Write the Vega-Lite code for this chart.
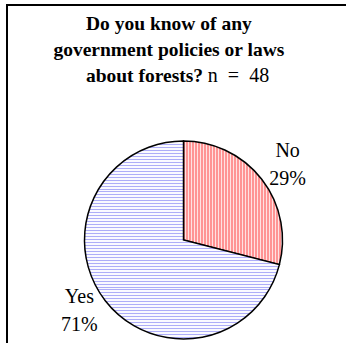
{
  "$schema": "https://vega.github.io/schema/vega-lite/v6.json",
  "width": 353,
  "height": 470,
  "autosize": "none",
  "padding": {"left": 7, "top": 5, "right": 0, "bottom": 0},
  "background": "white",
  "view": {"stroke": "black", "strokeWidth": 2},
  "title": {
    "text": ["Do you know of any\u00a0\u00a0\u00a0\u00a0\u00a0\u00a0\u200b", "government policies or laws\u00a0\u00a0\u00a0\u00a0\u00a0\u00a0\u200b", "about forests?\u00a0\u00a0\u00a0\u00a0\u00a0\u00a0\u00a0\u00a0\u00a0\u00a0\u00a0\u00a0\u00a0\u00a0\u00a0\u00a0\u200b"],
    "subtitle": "\u200b\u00a0\u00a0\u00a0\u00a0\u00a0\u00a0\u00a0\u00a0\u00a0\u00a0\u00a0\u00a0\u00a0\u00a0\u00a0\u00a0\u00a0\u00a0\u00a0\u00a0\u00a0\u00a0n\u00a0\u00a0=\u00a0\u00a048",
    "font": "Liberation Serif",
    "fontSize": 19.5,
    "fontWeight": "bold",
    "lineHeight": 26,
    "color": "black",
    "subtitleFont": "Liberation Serif",
    "subtitleFontSize": 20,
    "subtitleFontWeight": "normal",
    "subtitleColor": "black",
    "subtitlePadding": -20,
    "anchor": "middle",
    "frame": "group",
    "offset": -82
  },
  "data": {"values": [
    {"answer": "No", "share": 0.29},
    {"answer": "Yes", "share": 0.71}
  ]},
  "encoding": {
    "theta": {"field": "share", "type": "quantitative", "stack": true},
    "order": {"field": "answer", "type": "nominal"}
  },
  "layer": [
    {
      "mark": {"type": "arc", "outerRadius": 99, "stroke": "black", "strokeWidth": 1.5},
      "encoding": {
        "fill": {
          "condition": {"test": "datum.answer === 'No'", "value": {"gradient": "linear", "x1": 0, "y1": 0, "x2": 1, "y2": 0, "stops": [
            {"offset":0,"color":"#ff9494"},{"offset":0.02,"color":"#ff9494"},{"offset":0.02,"color":"#ffe2e2"},{"offset":0.03,"color":"#ffe2e2"},
            {"offset":0.03,"color":"#ff9494"},{"offset":0.05,"color":"#ff9494"},{"offset":0.05,"color":"#ffe2e2"},{"offset":0.06,"color":"#ffe2e2"},
            {"offset":0.06,"color":"#ff9494"},{"offset":0.08,"color":"#ff9494"},{"offset":0.08,"color":"#ffe2e2"},{"offset":0.09,"color":"#ffe2e2"},
            {"offset":0.09,"color":"#ff9494"},{"offset":0.11,"color":"#ff9494"},{"offset":0.11,"color":"#ffe2e2"},{"offset":0.12,"color":"#ffe2e2"},
            {"offset":0.12,"color":"#ff9494"},{"offset":0.14,"color":"#ff9494"},{"offset":0.14,"color":"#ffe2e2"},{"offset":0.15,"color":"#ffe2e2"},
            {"offset":0.15,"color":"#ff9494"},{"offset":0.17,"color":"#ff9494"},{"offset":0.17,"color":"#ffe2e2"},{"offset":0.18,"color":"#ffe2e2"},
            {"offset":0.18,"color":"#ff9494"},{"offset":0.20,"color":"#ff9494"},{"offset":0.20,"color":"#ffe2e2"},{"offset":0.21,"color":"#ffe2e2"},
            {"offset":0.21,"color":"#ff9494"},{"offset":0.23,"color":"#ff9494"},{"offset":0.23,"color":"#ffe2e2"},{"offset":0.24,"color":"#ffe2e2"},
            {"offset":0.24,"color":"#ff9494"},{"offset":0.26,"color":"#ff9494"},{"offset":0.26,"color":"#ffe2e2"},{"offset":0.27,"color":"#ffe2e2"},
            {"offset":0.27,"color":"#ff9494"},{"offset":0.29,"color":"#ff9494"},{"offset":0.29,"color":"#ffe2e2"},{"offset":0.30,"color":"#ffe2e2"},
            {"offset":0.30,"color":"#ff9494"},{"offset":0.32,"color":"#ff9494"},{"offset":0.32,"color":"#ffe2e2"},{"offset":0.33,"color":"#ffe2e2"},
            {"offset":0.33,"color":"#ff9494"},{"offset":0.35,"color":"#ff9494"},{"offset":0.35,"color":"#ffe2e2"},{"offset":0.36,"color":"#ffe2e2"},
            {"offset":0.36,"color":"#ff9494"},{"offset":0.38,"color":"#ff9494"},{"offset":0.38,"color":"#ffe2e2"},{"offset":0.39,"color":"#ffe2e2"},
            {"offset":0.39,"color":"#ff9494"},{"offset":0.41,"color":"#ff9494"},{"offset":0.41,"color":"#ffe2e2"},{"offset":0.42,"color":"#ffe2e2"},
            {"offset":0.42,"color":"#ff9494"},{"offset":0.44,"color":"#ff9494"},{"offset":0.44,"color":"#ffe2e2"},{"offset":0.45,"color":"#ffe2e2"},
            {"offset":0.45,"color":"#ff9494"},{"offset":0.47,"color":"#ff9494"},{"offset":0.47,"color":"#ffe2e2"},{"offset":0.48,"color":"#ffe2e2"},
            {"offset":0.48,"color":"#ff9494"},{"offset":0.50,"color":"#ff9494"},{"offset":0.50,"color":"#ffe2e2"},{"offset":0.51,"color":"#ffe2e2"},
            {"offset":0.51,"color":"#ff9494"},{"offset":0.53,"color":"#ff9494"},{"offset":0.53,"color":"#ffe2e2"},{"offset":0.54,"color":"#ffe2e2"},
            {"offset":0.54,"color":"#ff9494"},{"offset":0.56,"color":"#ff9494"},{"offset":0.56,"color":"#ffe2e2"},{"offset":0.57,"color":"#ffe2e2"},
            {"offset":0.57,"color":"#ff9494"},{"offset":0.59,"color":"#ff9494"},{"offset":0.59,"color":"#ffe2e2"},{"offset":0.60,"color":"#ffe2e2"},
            {"offset":0.60,"color":"#ff9494"},{"offset":0.62,"color":"#ff9494"},{"offset":0.62,"color":"#ffe2e2"},{"offset":0.63,"color":"#ffe2e2"},
            {"offset":0.63,"color":"#ff9494"},{"offset":0.65,"color":"#ff9494"},{"offset":0.65,"color":"#ffe2e2"},{"offset":0.66,"color":"#ffe2e2"},
            {"offset":0.66,"color":"#ff9494"},{"offset":0.68,"color":"#ff9494"},{"offset":0.68,"color":"#ffe2e2"},{"offset":0.69,"color":"#ffe2e2"},
            {"offset":0.69,"color":"#ff9494"},{"offset":0.71,"color":"#ff9494"},{"offset":0.71,"color":"#ffe2e2"},{"offset":0.72,"color":"#ffe2e2"},
            {"offset":0.72,"color":"#ff9494"},{"offset":0.74,"color":"#ff9494"},{"offset":0.74,"color":"#ffe2e2"},{"offset":0.75,"color":"#ffe2e2"},
            {"offset":0.75,"color":"#ff9494"},{"offset":0.77,"color":"#ff9494"},{"offset":0.77,"color":"#ffe2e2"},{"offset":0.78,"color":"#ffe2e2"},
            {"offset":0.78,"color":"#ff9494"},{"offset":0.80,"color":"#ff9494"},{"offset":0.80,"color":"#ffe2e2"},{"offset":0.81,"color":"#ffe2e2"},
            {"offset":0.81,"color":"#ff9494"},{"offset":0.83,"color":"#ff9494"},{"offset":0.83,"color":"#ffe2e2"},{"offset":0.84,"color":"#ffe2e2"},
            {"offset":0.84,"color":"#ff9494"},{"offset":0.86,"color":"#ff9494"},{"offset":0.86,"color":"#ffe2e2"},{"offset":0.87,"color":"#ffe2e2"},
            {"offset":0.87,"color":"#ff9494"},{"offset":0.89,"color":"#ff9494"},{"offset":0.89,"color":"#ffe2e2"},{"offset":0.90,"color":"#ffe2e2"},
            {"offset":0.90,"color":"#ff9494"},{"offset":0.92,"color":"#ff9494"},{"offset":0.92,"color":"#ffe2e2"},{"offset":0.93,"color":"#ffe2e2"},
            {"offset":0.93,"color":"#ff9494"},{"offset":0.95,"color":"#ff9494"},{"offset":0.95,"color":"#ffe2e2"},{"offset":0.96,"color":"#ffe2e2"},
            {"offset":0.96,"color":"#ff9494"},{"offset":0.98,"color":"#ff9494"},{"offset":0.98,"color":"#ffe2e2"},{"offset":0.99,"color":"#ffe2e2"},
            {"offset":0.99,"color":"#ff9494"},{"offset":1,"color":"#ff9494"}
          ]}},
          "value": {"gradient": "linear", "x1": 0, "y1": 0, "x2": 0, "y2": 1, "stops": [
            {"offset":0,"color":"#aeaef8"},{"offset":0.005,"color":"#aeaef8"},{"offset":0.005,"color":"#fafaff"},{"offset":0.015,"color":"#fafaff"},
            {"offset":0.015,"color":"#aeaef8"},{"offset":0.02,"color":"#aeaef8"},{"offset":0.02,"color":"#fafaff"},{"offset":0.03,"color":"#fafaff"},
            {"offset":0.03,"color":"#aeaef8"},{"offset":0.035,"color":"#aeaef8"},{"offset":0.035,"color":"#fafaff"},{"offset":0.045,"color":"#fafaff"},
            {"offset":0.045,"color":"#aeaef8"},{"offset":0.05,"color":"#aeaef8"},{"offset":0.05,"color":"#fafaff"},{"offset":0.06,"color":"#fafaff"},
            {"offset":0.06,"color":"#aeaef8"},{"offset":0.065,"color":"#aeaef8"},{"offset":0.065,"color":"#fafaff"},{"offset":0.075,"color":"#fafaff"},
            {"offset":0.075,"color":"#aeaef8"},{"offset":0.08,"color":"#aeaef8"},{"offset":0.08,"color":"#fafaff"},{"offset":0.09,"color":"#fafaff"},
            {"offset":0.09,"color":"#aeaef8"},{"offset":0.095,"color":"#aeaef8"},{"offset":0.095,"color":"#fafaff"},{"offset":0.105,"color":"#fafaff"},
            {"offset":0.105,"color":"#aeaef8"},{"offset":0.11,"color":"#aeaef8"},{"offset":0.11,"color":"#fafaff"},{"offset":0.12,"color":"#fafaff"},
            {"offset":0.12,"color":"#aeaef8"},{"offset":0.125,"color":"#aeaef8"},{"offset":0.125,"color":"#fafaff"},{"offset":0.135,"color":"#fafaff"},
            {"offset":0.135,"color":"#aeaef8"},{"offset":0.14,"color":"#aeaef8"},{"offset":0.14,"color":"#fafaff"},{"offset":0.15,"color":"#fafaff"},
            {"offset":0.15,"color":"#aeaef8"},{"offset":0.155,"color":"#aeaef8"},{"offset":0.155,"color":"#fafaff"},{"offset":0.165,"color":"#fafaff"},
            {"offset":0.165,"color":"#aeaef8"},{"offset":0.17,"color":"#aeaef8"},{"offset":0.17,"color":"#fafaff"},{"offset":0.18,"color":"#fafaff"},
            {"offset":0.18,"color":"#aeaef8"},{"offset":0.185,"color":"#aeaef8"},{"offset":0.185,"color":"#fafaff"},{"offset":0.195,"color":"#fafaff"},
            {"offset":0.195,"color":"#aeaef8"},{"offset":0.2,"color":"#aeaef8"},{"offset":0.2,"color":"#fafaff"},{"offset":0.21,"color":"#fafaff"},
            {"offset":0.21,"color":"#aeaef8"},{"offset":0.215,"color":"#aeaef8"},{"offset":0.215,"color":"#fafaff"},{"offset":0.225,"color":"#fafaff"},
            {"offset":0.225,"color":"#aeaef8"},{"offset":0.23,"color":"#aeaef8"},{"offset":0.23,"color":"#fafaff"},{"offset":0.24,"color":"#fafaff"},
            {"offset":0.24,"color":"#aeaef8"},{"offset":0.245,"color":"#aeaef8"},{"offset":0.245,"color":"#fafaff"},{"offset":0.255,"color":"#fafaff"},
            {"offset":0.255,"color":"#aeaef8"},{"offset":0.26,"color":"#aeaef8"},{"offset":0.26,"color":"#fafaff"},{"offset":0.27,"color":"#fafaff"},
            {"offset":0.27,"color":"#aeaef8"},{"offset":0.275,"color":"#aeaef8"},{"offset":0.275,"color":"#fafaff"},{"offset":0.285,"color":"#fafaff"},
            {"offset":0.285,"color":"#aeaef8"},{"offset":0.29,"color":"#aeaef8"},{"offset":0.29,"color":"#fafaff"},{"offset":0.3,"color":"#fafaff"},
            {"offset":0.3,"color":"#aeaef8"},{"offset":0.305,"color":"#aeaef8"},{"offset":0.305,"color":"#fafaff"},{"offset":0.315,"color":"#fafaff"},
            {"offset":0.315,"color":"#aeaef8"},{"offset":0.32,"color":"#aeaef8"},{"offset":0.32,"color":"#fafaff"},{"offset":0.33,"color":"#fafaff"},
            {"offset":0.33,"color":"#aeaef8"},{"offset":0.335,"color":"#aeaef8"},{"offset":0.335,"color":"#fafaff"},{"offset":0.345,"color":"#fafaff"},
            {"offset":0.345,"color":"#aeaef8"},{"offset":0.35,"color":"#aeaef8"},{"offset":0.35,"color":"#fafaff"},{"offset":0.36,"color":"#fafaff"},
            {"offset":0.36,"color":"#aeaef8"},{"offset":0.365,"color":"#aeaef8"},{"offset":0.365,"color":"#fafaff"},{"offset":0.375,"color":"#fafaff"},
            {"offset":0.375,"color":"#aeaef8"},{"offset":0.38,"color":"#aeaef8"},{"offset":0.38,"color":"#fafaff"},{"offset":0.39,"color":"#fafaff"},
            {"offset":0.39,"color":"#aeaef8"},{"offset":0.395,"color":"#aeaef8"},{"offset":0.395,"color":"#fafaff"},{"offset":0.405,"color":"#fafaff"},
            {"offset":0.405,"color":"#aeaef8"},{"offset":0.41,"color":"#aeaef8"},{"offset":0.41,"color":"#fafaff"},{"offset":0.42,"color":"#fafaff"},
            {"offset":0.42,"color":"#aeaef8"},{"offset":0.425,"color":"#aeaef8"},{"offset":0.425,"color":"#fafaff"},{"offset":0.435,"color":"#fafaff"},
            {"offset":0.435,"color":"#aeaef8"},{"offset":0.44,"color":"#aeaef8"},{"offset":0.44,"color":"#fafaff"},{"offset":0.45,"color":"#fafaff"},
            {"offset":0.45,"color":"#aeaef8"},{"offset":0.455,"color":"#aeaef8"},{"offset":0.455,"color":"#fafaff"},{"offset":0.465,"color":"#fafaff"},
            {"offset":0.465,"color":"#aeaef8"},{"offset":0.47,"color":"#aeaef8"},{"offset":0.47,"color":"#fafaff"},{"offset":0.48,"color":"#fafaff"},
            {"offset":0.48,"color":"#aeaef8"},{"offset":0.485,"color":"#aeaef8"},{"offset":0.485,"color":"#fafaff"},{"offset":0.495,"color":"#fafaff"},
            {"offset":0.495,"color":"#aeaef8"},{"offset":0.5,"color":"#aeaef8"},{"offset":0.5,"color":"#fafaff"},{"offset":0.51,"color":"#fafaff"},
            {"offset":0.51,"color":"#aeaef8"},{"offset":0.515,"color":"#aeaef8"},{"offset":0.515,"color":"#fafaff"},{"offset":0.525,"color":"#fafaff"},
            {"offset":0.525,"color":"#aeaef8"},{"offset":0.53,"color":"#aeaef8"},{"offset":0.53,"color":"#fafaff"},{"offset":0.54,"color":"#fafaff"},
            {"offset":0.54,"color":"#aeaef8"},{"offset":0.545,"color":"#aeaef8"},{"offset":0.545,"color":"#fafaff"},{"offset":0.555,"color":"#fafaff"},
            {"offset":0.555,"color":"#aeaef8"},{"offset":0.56,"color":"#aeaef8"},{"offset":0.56,"color":"#fafaff"},{"offset":0.57,"color":"#fafaff"},
            {"offset":0.57,"color":"#aeaef8"},{"offset":0.575,"color":"#aeaef8"},{"offset":0.575,"color":"#fafaff"},{"offset":0.585,"color":"#fafaff"},
            {"offset":0.585,"color":"#aeaef8"},{"offset":0.59,"color":"#aeaef8"},{"offset":0.59,"color":"#fafaff"},{"offset":0.6,"color":"#fafaff"},
            {"offset":0.6,"color":"#aeaef8"},{"offset":0.605,"color":"#aeaef8"},{"offset":0.605,"color":"#fafaff"},{"offset":0.615,"color":"#fafaff"},
            {"offset":0.615,"color":"#aeaef8"},{"offset":0.62,"color":"#aeaef8"},{"offset":0.62,"color":"#fafaff"},{"offset":0.63,"color":"#fafaff"},
            {"offset":0.63,"color":"#aeaef8"},{"offset":0.635,"color":"#aeaef8"},{"offset":0.635,"color":"#fafaff"},{"offset":0.645,"color":"#fafaff"},
            {"offset":0.645,"color":"#aeaef8"},{"offset":0.65,"color":"#aeaef8"},{"offset":0.65,"color":"#fafaff"},{"offset":0.66,"color":"#fafaff"},
            {"offset":0.66,"color":"#aeaef8"},{"offset":0.665,"color":"#aeaef8"},{"offset":0.665,"color":"#fafaff"},{"offset":0.675,"color":"#fafaff"},
            {"offset":0.675,"color":"#aeaef8"},{"offset":0.68,"color":"#aeaef8"},{"offset":0.68,"color":"#fafaff"},{"offset":0.69,"color":"#fafaff"},
            {"offset":0.69,"color":"#aeaef8"},{"offset":0.695,"color":"#aeaef8"},{"offset":0.695,"color":"#fafaff"},{"offset":0.705,"color":"#fafaff"},
            {"offset":0.705,"color":"#aeaef8"},{"offset":0.71,"color":"#aeaef8"},{"offset":0.71,"color":"#fafaff"},{"offset":0.72,"color":"#fafaff"},
            {"offset":0.72,"color":"#aeaef8"},{"offset":0.725,"color":"#aeaef8"},{"offset":0.725,"color":"#fafaff"},{"offset":0.735,"color":"#fafaff"},
            {"offset":0.735,"color":"#aeaef8"},{"offset":0.74,"color":"#aeaef8"},{"offset":0.74,"color":"#fafaff"},{"offset":0.75,"color":"#fafaff"},
            {"offset":0.75,"color":"#aeaef8"},{"offset":0.755,"color":"#aeaef8"},{"offset":0.755,"color":"#fafaff"},{"offset":0.765,"color":"#fafaff"},
            {"offset":0.765,"color":"#aeaef8"},{"offset":0.77,"color":"#aeaef8"},{"offset":0.77,"color":"#fafaff"},{"offset":0.78,"color":"#fafaff"},
            {"offset":0.78,"color":"#aeaef8"},{"offset":0.785,"color":"#aeaef8"},{"offset":0.785,"color":"#fafaff"},{"offset":0.795,"color":"#fafaff"},
            {"offset":0.795,"color":"#aeaef8"},{"offset":0.8,"color":"#aeaef8"},{"offset":0.8,"color":"#fafaff"},{"offset":0.81,"color":"#fafaff"},
            {"offset":0.81,"color":"#aeaef8"},{"offset":0.815,"color":"#aeaef8"},{"offset":0.815,"color":"#fafaff"},{"offset":0.825,"color":"#fafaff"},
            {"offset":0.825,"color":"#aeaef8"},{"offset":0.83,"color":"#aeaef8"},{"offset":0.83,"color":"#fafaff"},{"offset":0.84,"color":"#fafaff"},
            {"offset":0.84,"color":"#aeaef8"},{"offset":0.845,"color":"#aeaef8"},{"offset":0.845,"color":"#fafaff"},{"offset":0.855,"color":"#fafaff"},
            {"offset":0.855,"color":"#aeaef8"},{"offset":0.86,"color":"#aeaef8"},{"offset":0.86,"color":"#fafaff"},{"offset":0.87,"color":"#fafaff"},
            {"offset":0.87,"color":"#aeaef8"},{"offset":0.875,"color":"#aeaef8"},{"offset":0.875,"color":"#fafaff"},{"offset":0.885,"color":"#fafaff"},
            {"offset":0.885,"color":"#aeaef8"},{"offset":0.89,"color":"#aeaef8"},{"offset":0.89,"color":"#fafaff"},{"offset":0.9,"color":"#fafaff"},
            {"offset":0.9,"color":"#aeaef8"},{"offset":0.905,"color":"#aeaef8"},{"offset":0.905,"color":"#fafaff"},{"offset":0.915,"color":"#fafaff"},
            {"offset":0.915,"color":"#aeaef8"},{"offset":0.92,"color":"#aeaef8"},{"offset":0.92,"color":"#fafaff"},{"offset":0.93,"color":"#fafaff"},
            {"offset":0.93,"color":"#aeaef8"},{"offset":0.935,"color":"#aeaef8"},{"offset":0.935,"color":"#fafaff"},{"offset":0.945,"color":"#fafaff"},
            {"offset":0.945,"color":"#aeaef8"},{"offset":0.95,"color":"#aeaef8"},{"offset":0.95,"color":"#fafaff"},{"offset":0.96,"color":"#fafaff"},
            {"offset":0.96,"color":"#aeaef8"},{"offset":0.965,"color":"#aeaef8"},{"offset":0.965,"color":"#fafaff"},{"offset":0.975,"color":"#fafaff"},
            {"offset":0.975,"color":"#aeaef8"},{"offset":0.98,"color":"#aeaef8"},{"offset":0.98,"color":"#fafaff"},{"offset":0.99,"color":"#fafaff"},
            {"offset":0.99,"color":"#aeaef8"},{"offset":0.995,"color":"#aeaef8"},{"offset":0.995,"color":"#fafaff"},{"offset":1,"color":"#fafaff"}
          ]}
        }
      }
    },
    {
      "mark": {"type": "text", "radius": 127, "thetaOffset": 0.05, "dy": -16, "font": "Liberation Serif", "fontSize": 20, "color": "black", "baseline": "middle"},
      "encoding": {"text": {"field": "answer", "type": "nominal"}}
    },
    {
      "mark": {"type": "text", "radius": 127, "thetaOffset": 0.05, "dy": 12, "font": "Liberation Serif", "fontSize": 20, "color": "black", "baseline": "middle"},
      "encoding": {"text": {"field": "share", "type": "quantitative", "format": ".0%"}}
    }
  ]
}
